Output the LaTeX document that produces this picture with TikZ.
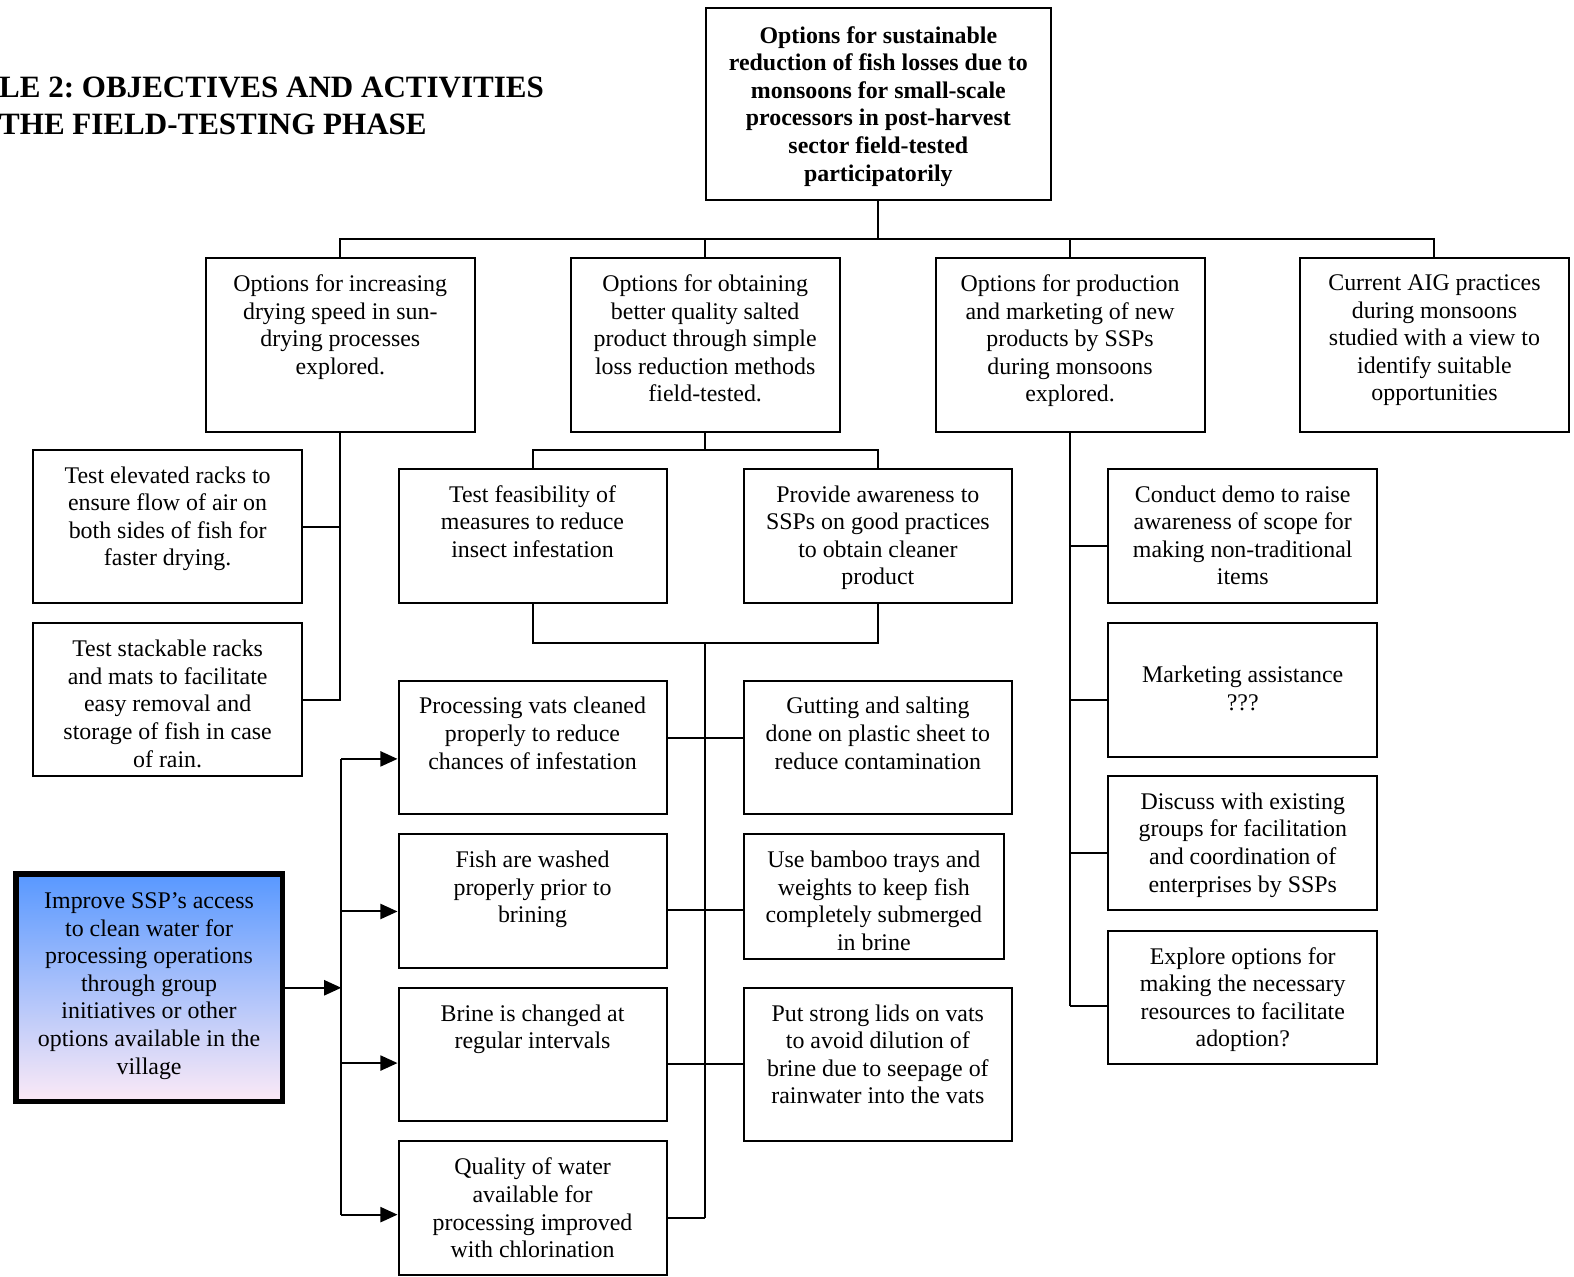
\documentclass[tikz,border=0pt]{standalone}
\usepackage{fontspec}
\setmainfont{Liberation Serif}
\usetikzlibrary{arrows.meta}
\definecolor{srctop}{RGB}{88,152,255}
\definecolor{srcbot}{RGB}{252,234,246}

\begin{document}
\begin{tikzpicture}[x=1pt, y=-1pt,
  box/.style={draw, line width=2pt, inner sep=0pt, minimum width=268pt},
  txt/.style={anchor=north, align=center, inner sep=0pt, font=\fontsize{23.8}{27.5}\selectfont},
  bold/.style={font=\fontsize{23.8}{27.5}\selectfont\bfseries},
  link/.style={line width=2pt},
  arr/.style={line width=2pt, -{Triangle[length=17pt, width=15pt]}}]
\useasboundingbox (0,0) rectangle (1568,1272.1);

\node[anchor=north west, align=left, inner sep=0pt, font=\fontsize{30.9}{37}\selectfont\bfseries\frenchspacing] (title) at (-1,76) {LE 2: OBJECTIVES AND ACTIVITIES\\THE FIELD-TESTING PHASE};

% goal and outputs
\node[box, minimum width=344pt, minimum height=191pt] (goal) at (875,103.5) {};
\node[txt, bold] at ([yshift=-19pt]goal.north) {Options for sustainable\\reduction of fish losses due to\\monsoons for small-scale\\processors in post-harvest\\sector field-tested\\participatorily};

\node[box, minimum height=173pt] (a) at (339,343.5) {};
\node[txt] at ([yshift=-17.5pt]a.north) {Options for increasing\\drying speed in sun-\\drying processes\\explored.};
\node[box, minimum height=173pt] (b) at (702.5,343.5) {};
\node[txt] at ([yshift=-17.5pt]b.north) {Options for obtaining\\better quality salted\\product through simple\\loss reduction methods\\field-tested.};
\node[box, minimum height=173pt] (c) at (1066,343.5) {};
\node[txt] at ([yshift=-17.5pt]c.north) {Options for production\\and marketing of new\\products by SSPs\\during monsoons\\explored.};
\node[box, minimum height=173pt] (d) at (1429,343.5) {};
\node[txt] at ([yshift=-17.5pt]d.north) {Current AIG practices\\during monsoons\\studied with a view to\\identify suitable\\opportunities};

% drying
\node[box, minimum height=153pt] (l1) at (167,524.5) {};
\node[txt] at ([yshift=-17.5pt]l1.north) {Test elevated racks to\\ensure flow of air on\\both sides of fish for\\faster drying.};
\node[box, minimum height=152pt] (l2) at (167,697) {};
\node[txt] at ([yshift=-17.5pt]l2.north) {Test stackable racks\\and mats to facilitate\\easy removal and\\storage of fish in case\\of rain.};

% salting
\node[box, minimum width=267pt, minimum height=134pt] (m1) at (530.5,534) {};
\node[txt] at ([yshift=-17.5pt]m1.north) {Test feasibility of\\measures to reduce\\insect infestation};
\node[box, minimum width=267pt, minimum height=134pt] (m2) at (874.5,534) {};
\node[txt] at ([yshift=-17.5pt]m2.north) {Provide awareness to\\SSPs on good practices\\to obtain cleaner\\product};

\node[box, minimum width=267pt, minimum height=133pt] (p1) at (530.5,744.5) {};
\node[txt] at ([yshift=-17.5pt]p1.north) {Processing vats cleaned\\properly to reduce\\chances of infestation};
\node[box, minimum width=267pt, minimum height=133pt] (p2) at (530.5,897.5) {};
\node[txt] at ([yshift=-17.5pt]p2.north) {Fish are washed\\properly prior to\\brining};
\node[box, minimum width=267pt, minimum height=133pt] (p3) at (530.5,1050.5) {};
\node[txt] at ([yshift=-17.5pt]p3.north) {Brine is changed at\\regular intervals};
\node[box, minimum width=267pt, minimum height=133pt] (p4) at (530.5,1203.5) {};
\node[txt] at ([yshift=-17.5pt]p4.north) {Quality of water\\available for\\processing improved\\with chlorination};

\node[box, minimum width=267pt, minimum height=133pt] (q1) at (874.5,744.5) {};
\node[txt] at ([yshift=-17.5pt]q1.north) {Gutting and salting\\done on plastic sheet to\\reduce contamination};
\node[box, minimum width=259pt, minimum height=124pt] (q2) at (870.5,893) {};
\node[txt] at ([yshift=-17.5pt]q2.north) {Use bamboo trays and\\weights to keep fish\\completely submerged\\in brine};
\node[box, minimum width=267pt, minimum height=153pt] (q3) at (874.5,1060.5) {};
\node[txt] at ([yshift=-17.5pt]q3.north) {Put strong lids on vats\\to avoid dilution of\\brine due to seepage of\\rainwater into the vats};

% new products
\node[box, minimum height=134pt] (r1) at (1238,534) {};
\node[txt] at ([yshift=-17.5pt]r1.north) {Conduct demo to raise\\awareness of scope for\\making non-traditional\\items};
\node[box, minimum height=133pt] (r2) at (1238,687.5) {};
\node[txt] at ([yshift=-43.5pt]r2.north) {Marketing assistance\\???};
\node[box, minimum height=134pt] (r3) at (1238,840) {};
\node[txt] at ([yshift=-17.5pt]r3.north) {Discuss with existing\\groups for facilitation\\and coordination of\\enterprises by SSPs};
\node[box, minimum height=133pt] (r4) at (1238,993.5) {};
\node[txt] at ([yshift=-17.5pt]r4.north) {Explore options for\\making the necessary\\resources to facilitate\\adoption?};

% water access
\node[draw, line width=5.5pt, top color=srctop, bottom color=srcbot, inner sep=0pt, minimum width=265.5pt, minimum height=226.5pt] (src) at (148.5,984) {};
\node[txt] at ([yshift=-21pt]src.north) {Improve SSP’s access\\to clean water for\\processing operations\\through group\\initiatives or other\\options available in the\\village};

% tree
\coordinate (hub) at (875,238);
\draw[link] (goal.south) -- (hub);
\draw[link] (a.north) |- (hub) -| (d.north);
\draw[link] (b.north) -- (b.north |- hub);
\draw[link] (c.north) -- (c.north |- hub);

\draw[link] (a.south) |- (l2.east);
\draw[link] (l1.east) -- (l1.east -| a.south);

\coordinate (split) at (702.5,448);
\coordinate (merge) at (702.5,641);
\draw[link] (b.south) -- (split);
\draw[link] (m1.north) |- (split) -| (m2.north);
\draw[link] (m1.south) |- (merge) -| (m2.south);

\coordinate (tj1) at (702.5,735);
\coordinate (tj2) at (702.5,907);
\coordinate (tj3) at (702.5,1060);
\coordinate (tj4) at (702.5,1213);
\draw[link] (merge) -- (tj4);
\draw[link] (tj1 -| p1.east) -- (tj1 -| q1.west);
\draw[link] (tj2 -| p2.east) -- (tj2 -| q2.west);
\draw[link] (tj3 -| p3.east) -- (tj3 -| q3.west);
\draw[link] (tj4 -| p4.east) -- (tj4);

\coordinate (bus) at (340,984);
\coordinate (lj1) at (340,756);
\coordinate (lj2) at (340,908);
\coordinate (lj3) at (340,1059);
\coordinate (lj4) at (340,1210);
\draw[arr] (src.east) -- (bus);
\draw[link] (lj1) -- (lj4);
\draw[arr] (lj1) -- (lj1 -| p1.west);
\draw[arr] (lj2) -- (lj2 -| p2.west);
\draw[arr] (lj3) -- (lj3 -| p3.west);
\draw[arr] (lj4) -- (lj4 -| p4.west);

\coordinate (rj1) at (1066,544);
\coordinate (rj2) at (1066,697);
\coordinate (rj3) at (1066,850);
\coordinate (rj4) at (1066,1002);
\draw[link] (c.south) -- (rj4);
\draw[link] (rj1) -- (rj1 -| r1.west);
\draw[link] (rj2) -- (rj2 -| r2.west);
\draw[link] (rj3) -- (rj3 -| r3.west);
\draw[link] (rj4) -- (rj4 -| r4.west);
\end{tikzpicture}
\end{document}
